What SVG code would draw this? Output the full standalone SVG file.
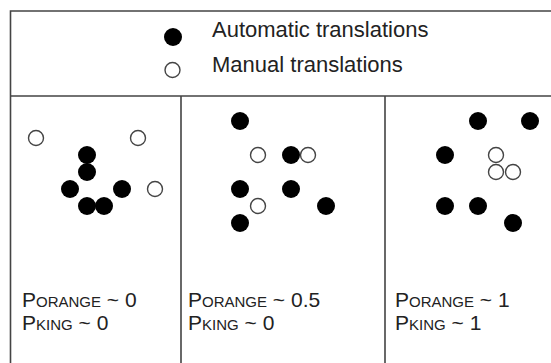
<svg xmlns="http://www.w3.org/2000/svg" width="551" height="363" viewBox="0 0 551 363">
<style>
.ln{stroke:#444;stroke-width:1.6;fill:none}
.f{fill:#000}
.o{fill:#fff;stroke:#444;stroke-width:1.4}
text{font-family:"Liberation Sans",Arial,sans-serif;fill:#222}
.h{font-size:22px}
.lb{font-size:21px}
.sc{font-size:15px}
</style>
<rect width="551" height="363" fill="#fff"/>
<g id="frame">
<path class="ln" d="M10.5 364 V11 H560 M10 96 H560 M181 96 V364 M385 96 V364"/>
</g>
<g id="legend">
<circle class="f" cx="173" cy="37" r="9"/>
<circle class="o" cx="172.5" cy="70" r="7.5"/>
<text class="h" x="212" y="37">Automatic translations</text>
<text class="h" x="212" y="72">Manual translations</text>
</g>
<g id="panel1">
<circle class="o" cx="36" cy="138" r="7.5"/>
<circle class="o" cx="138" cy="138" r="7.5"/>
<circle class="f" cx="87" cy="155" r="9"/>
<circle class="f" cx="87" cy="172" r="9"/>
<circle class="f" cx="70" cy="189" r="9"/>
<circle class="f" cx="122" cy="189" r="9"/>
<circle class="o" cx="155" cy="189" r="7.5"/>
<circle class="f" cx="87" cy="206" r="9"/>
<circle class="f" cx="104" cy="206" r="9"/>
<text class="lb" x="22" y="307">P<tspan class="sc">ORANGE</tspan> ~ 0</text>
<text class="lb" x="22" y="330">P<tspan class="sc">KING</tspan> ~ 0</text>
</g>
<g id="panel2">
<circle class="f" cx="240" cy="121" r="9"/>
<circle class="o" cx="258" cy="155" r="7.5"/>
<circle class="f" cx="291" cy="155" r="9"/>
<circle class="o" cx="308" cy="155" r="7.5"/>
<circle class="f" cx="240" cy="189" r="9"/>
<circle class="f" cx="291" cy="189" r="9"/>
<circle class="o" cx="258" cy="206" r="7.5"/>
<circle class="f" cx="326" cy="206" r="9"/>
<circle class="f" cx="240" cy="223" r="9"/>
<text class="lb" x="188" y="307">P<tspan class="sc">ORANGE</tspan> ~ 0.5</text>
<text class="lb" x="188" y="330">P<tspan class="sc">KING</tspan> ~ 0</text>
</g>
<g id="panel3">
<circle class="f" cx="478" cy="121" r="9"/>
<circle class="f" cx="530" cy="121" r="9"/>
<circle class="f" cx="445" cy="155" r="9"/>
<circle class="o" cx="496" cy="155" r="7.5"/>
<circle class="o" cx="496" cy="172" r="7.5"/>
<circle class="o" cx="513" cy="172" r="7.5"/>
<circle class="f" cx="445" cy="206" r="9"/>
<circle class="f" cx="478" cy="206" r="9"/>
<circle class="f" cx="513" cy="223" r="9"/>
<text class="lb" x="395" y="307">P<tspan class="sc">ORANGE</tspan> ~ 1</text>
<text class="lb" x="395" y="330">P<tspan class="sc">KING</tspan> ~ 1</text>
</g>
</svg>
